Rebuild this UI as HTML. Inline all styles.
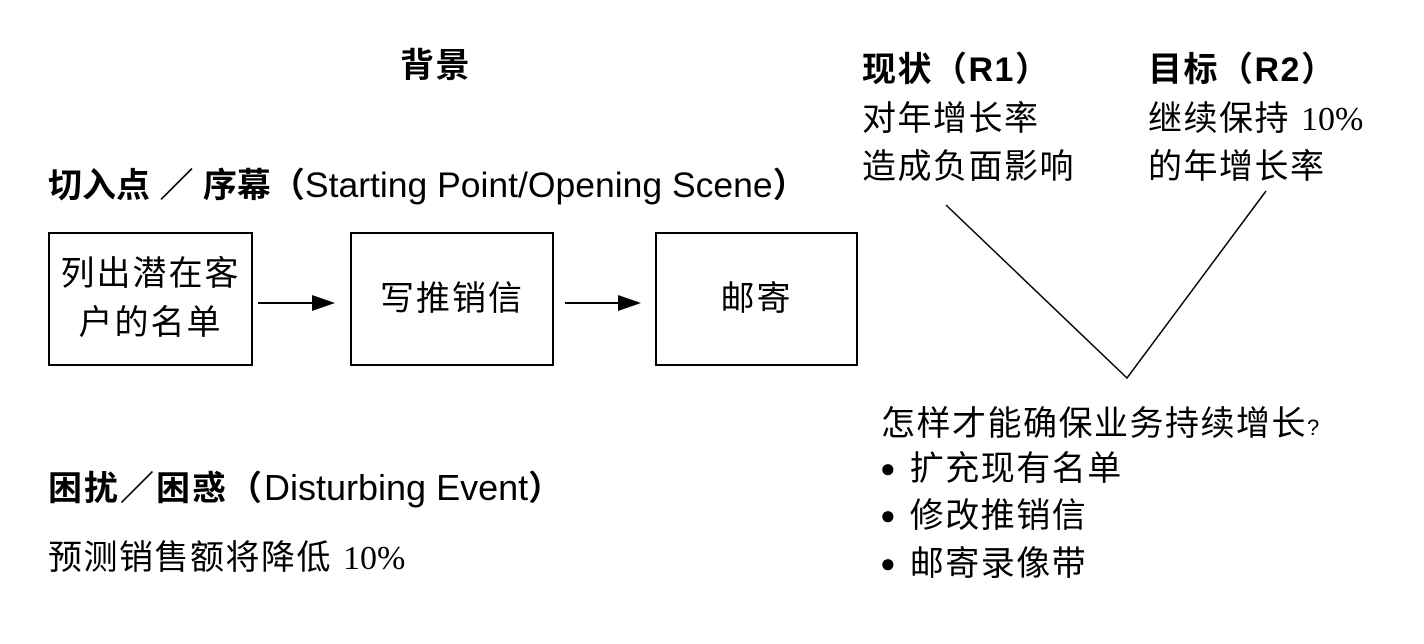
<!DOCTYPE html>
<html><head><meta charset="utf-8"><style>
body{margin:0;width:1424px;height:644px;background:#fff;position:relative;overflow:hidden;font-family:"Liberation Sans","Noto Sans CJK SC",sans-serif;color:#000}
.t{position:absolute;white-space:nowrap;line-height:1;font-size:34px;letter-spacing:1.5px}
.b{font-weight:bold}
.e{letter-spacing:0;font-weight:normal}
.box{position:absolute;border:2px solid #000;box-sizing:border-box;display:flex;align-items:center;justify-content:center;text-align:center;font-size:34px;letter-spacing:2px;line-height:49px}
.s{font-family:"Liberation Serif","Noto Sans CJK SC",serif;letter-spacing:0}
</style></head><body>
<div class="t b" style="left:400px;top:49px;font-size:34px">背景</div>
<div class="t b" style="left:48px;top:168px;letter-spacing:0">切入点 ／ 序幕（<span class="e" style="font-size:35.5px">Starting Point/Opening Scene</span>）</div>
<div class="box" style="left:48px;top:232px;width:205px;height:134px">列出潜在客<br>户的名单</div>
<div class="box" style="left:350px;top:232px;width:204px;height:134px">写推销信</div>
<div class="box" style="left:655px;top:232px;width:203px;height:134px">邮寄</div>
<svg style="position:absolute;left:0;top:0" width="1424" height="644">
<line x1="258" y1="303" x2="312" y2="303" stroke="#000" stroke-width="2"/>
<polygon points="312,295 335,303 312,311" fill="#000"/>
<line x1="565" y1="303" x2="618" y2="303" stroke="#000" stroke-width="2"/>
<polygon points="618,295 641,303 618,311" fill="#000"/>
<polyline points="946,205 1127,378 1266,191" fill="none" stroke="#000" stroke-width="1.5"/>
</svg>
<div class="t b" style="left:48px;top:470px;letter-spacing:2px">困扰／困惑（<span class="e" style="font-size:36px">Disturbing Event</span>）</div>
<div class="t" style="left:48px;top:541px">预测销售额将降低 <span class="s">10%</span></div>
<div class="t b" style="left:862px;top:53px">现状（R1）</div>
<div class="t" style="left:862px;top:102px">对年增长率</div>
<div class="t" style="left:862px;top:150px">造成负面影响</div>
<div class="t b" style="left:1148px;top:53px">目标（R2）</div>
<div class="t" style="left:1148px;top:102px">继续保持 <span class="s">10%</span></div>
<div class="t" style="left:1148px;top:150px">的年增长率</div>
<div class="t" style="left:881px;top:407px">怎样才能确保业务持续增长<span style="font-size:22px">?</span></div>
<div class="t" style="left:880px;top:452px"><span style="font-size:26px;letter-spacing:14px;vertical-align:3px">●</span>扩充现有名单</div>
<div class="t" style="left:880px;top:499px"><span style="font-size:26px;letter-spacing:14px;vertical-align:3px">●</span>修改推销信</div>
<div class="t" style="left:880px;top:547px"><span style="font-size:26px;letter-spacing:14px;vertical-align:3px">●</span>邮寄录像带</div>
</body></html>
